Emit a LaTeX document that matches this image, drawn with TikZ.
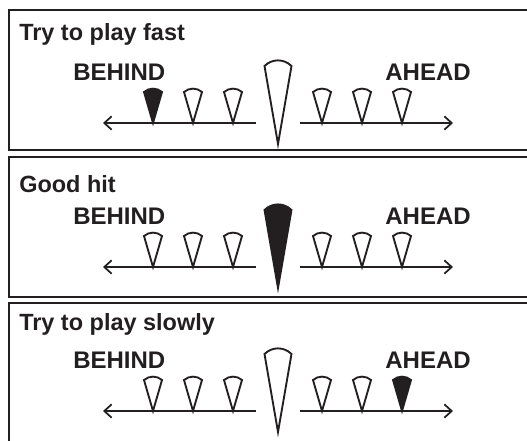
\documentclass[tikz,border=0pt]{standalone}
\usepackage{fontspec}
\setmainfont{Liberation Sans}
\usetikzlibrary{calc, arrows.meta}
\definecolor{ink}{HTML}{231F20}

\begin{document}
\begin{tikzpicture}[x=.75pt, y=-.75pt]
    \tikzstyle{panel} = [draw=ink, line width=1.9pt]
    \tikzstyle{title} = [anchor=base west, inner sep=0, text=ink,
        font=\fontsize{17.6}{20}\selectfont\bfseries]
    \tikzstyle{side} = [inner sep=0, text=ink,
        font=\fontsize{18}{21}\selectfont\bfseries]
    \tikzstyle{axis} = [draw=ink, line width=1.5pt,
        -{Straight Barb[length=5.5pt, width=10pt, line width=1.3pt]}]
    \tikzset{
        smallcone/.pic = {\path[draw=ink, line width=1.4pt, pic actions]
            (0,0) -- (-9,-31) .. controls (-4,-35.5) and (4,-35.5) .. (9,-31) -- cycle;},
        bigcone/.pic = {\path[draw=ink, line width=1.4pt, pic actions]
            (0,21) -- (-13.5,-57) .. controls (-6,-64.5) and (6,-64.5) .. (13.5,-57) -- cycle;}
    }

    \useasboundingbox (0,0) rectangle (527,440);
    \clip (0,0) rectangle (527,440);

    % Panels -------------------------------------------
    \draw[panel] (9,10) rectangle (545,150);
    \draw[panel] (9,157) rectangle (545,297);
    \draw[panel] (9,303) rectangle (545,450);

    % Try to play fast ---------------------------------
    \coordinate (C1) at (278,123);
    \node (T1) at ($(C1) + (-259, -83)$) [title] {Try to play fast};
    \node (B1) at ($(C1) + (-205, -43)$) [side, anchor=base west] {BEHIND};
    \node (A1) at ($(C1) + (193, -43)$) [side, anchor=base east] {AHEAD};
    \coordinate (l1) at ($(C1) + (-22, 0)$);
    \coordinate (lt1) at ($(C1) + (-175, 0)$);
    \coordinate (r1) at ($(C1) + (22, 0)$);
    \coordinate (rt1) at ($(C1) + (175, 0)$);
    \draw[axis] (l1) -- (lt1);
    \draw[axis] (r1) -- (rt1);
    \pic[fill=ink] at ($(C1) + (-125, 0)$) {smallcone};
    \pic at ($(C1) + (-85, 0)$) {smallcone};
    \pic at ($(C1) + (-45, 0)$) {smallcone};
    \pic at (C1) {bigcone};
    \pic at ($(C1) + (44, 0)$) {smallcone};
    \pic at ($(C1) + (84, 0)$) {smallcone};
    \pic at ($(C1) + (124, 0)$) {smallcone};

    % Good hit -----------------------------------------
    \coordinate (C2) at (278,267);
    \node (T2) at ($(C2) + (-259, -75)$) [title] {Good hit};
    \node (B2) at ($(C2) + (-205, -43)$) [side, anchor=base west] {BEHIND};
    \node (A2) at ($(C2) + (193, -43)$) [side, anchor=base east] {AHEAD};
    \coordinate (l2) at ($(C2) + (-22, 0)$);
    \coordinate (lt2) at ($(C2) + (-175, 0)$);
    \coordinate (r2) at ($(C2) + (22, 0)$);
    \coordinate (rt2) at ($(C2) + (175, 0)$);
    \draw[axis] (l2) -- (lt2);
    \draw[axis] (r2) -- (rt2);
    \pic at ($(C2) + (-125, 0)$) {smallcone};
    \pic at ($(C2) + (-85, 0)$) {smallcone};
    \pic at ($(C2) + (-45, 0)$) {smallcone};
    \pic[fill=ink] at (C2) {bigcone};
    \pic at ($(C2) + (44, 0)$) {smallcone};
    \pic at ($(C2) + (84, 0)$) {smallcone};
    \pic at ($(C2) + (124, 0)$) {smallcone};

    % Try to play slowly -------------------------------
    \coordinate (C3) at (278,411);
    \node (T3) at ($(C3) + (-259, -81)$) [title] {Try to play slowly};
    \node (B3) at ($(C3) + (-205, -43)$) [side, anchor=base west] {BEHIND};
    \node (A3) at ($(C3) + (193, -43)$) [side, anchor=base east] {AHEAD};
    \coordinate (l3) at ($(C3) + (-22, 0)$);
    \coordinate (lt3) at ($(C3) + (-175, 0)$);
    \coordinate (r3) at ($(C3) + (22, 0)$);
    \coordinate (rt3) at ($(C3) + (175, 0)$);
    \draw[axis] (l3) -- (lt3);
    \draw[axis] (r3) -- (rt3);
    \pic at ($(C3) + (-125, 0)$) {smallcone};
    \pic at ($(C3) + (-85, 0)$) {smallcone};
    \pic at ($(C3) + (-45, 0)$) {smallcone};
    \pic at (C3) {bigcone};
    \pic at ($(C3) + (44, 0)$) {smallcone};
    \pic at ($(C3) + (84, 0)$) {smallcone};
    \pic[fill=ink] at ($(C3) + (124, 0)$) {smallcone};
\end{tikzpicture}
\end{document}
